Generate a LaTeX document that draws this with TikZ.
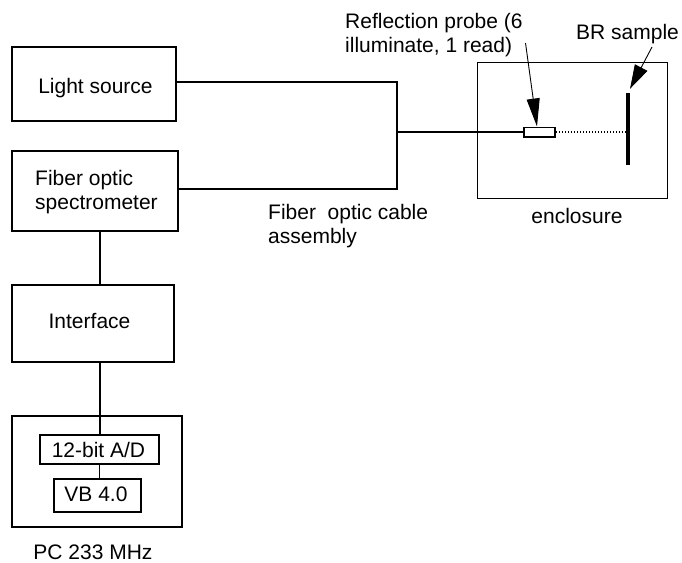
\documentclass[tikz,border=0pt]{standalone}
\usepackage{fontspec}
\setmainfont{Liberation Sans}
\usetikzlibrary{arrows.meta}
\begin{document}
\begin{tikzpicture}[x=1pt,y=-1pt,
  box/.style={draw, line width=2pt, inner sep=0pt},
  thinbox/.style={draw, line width=1.3pt, inner sep=0pt},
  txt/.style={inner sep=0pt, font=\fontsize{21}{24}\selectfont},
  wire/.style={line width=2pt},
  pointer/.style={line width=0.9pt}
]
\useasboundingbox (0,0) rectangle (682,562);
% boxes
\node[box, minimum width=164pt, minimum height=74pt] (ls) at (94,84) {};
\node[box, minimum width=166pt, minimum height=80pt] (spec) at (95,191) {};
\node[box, minimum width=162pt, minimum height=77pt] (intf) at (93,323.5) {};
\node[box, minimum width=170pt, minimum height=111pt] (pc) at (97,471.5) {};
\node[thinbox, minimum width=119pt, minimum height=29pt] (ad) at (99.5,449.5) {};
\node[thinbox, minimum width=87pt, minimum height=33pt] (vb) at (97.5,495.5) {};
\node[draw, line width=1pt, inner sep=0pt, minimum width=190pt, minimum height=136pt] (encl) at (572,130) {};
\node[draw, line width=1.5pt, inner sep=0pt, minimum width=31pt, minimum height=9.5pt] (probe) at (539.5,132) {};
\node[fill=black, inner sep=0pt, minimum width=4.5pt, minimum height=72pt] (sample) at (628,129) {};
% texts
\node[txt, anchor=base] (lst) at (95.5,93) {Light source};
\node[txt, anchor=north west, align=left] (spt) at (35,170) {Fiber optic\\spectrometer};
\node[txt, anchor=base] (ift) at (89.5,328) {Interface};
\node[txt, anchor=base] (adt) at (98.5,457) {12-bit A/D};
\node[txt, anchor=base] (vbt) at (96,501) {VB 4.0};
\node[txt, anchor=base] (pct) at (93,559) {PC 233 MHz};
\node[txt, anchor=north west, align=left] (cbt) at (268,204) {Fiber\ \ optic cable\\assembly};
\node[txt, anchor=north west, align=left] (prt) at (345,13) {Reflection probe (6\\illuminate, 1 read)};
\node[txt, anchor=base west] (brt) at (576,39) {BR sample};
\node[txt, anchor=base] (ent) at (577,223) {enclosure};
% connectors
\coordinate (j1) at (397,82);
\coordinate (j2) at (397,189);
\coordinate (jm) at (397,132);
\draw[wire] (ls.east |- j1) -- (j1) -- (j2) -- (spec.east |- j2);
\draw[line width=2.3pt] (jm) -- (probe.west);
\draw[wire] ([xshift=5pt]spec.south) -- ([xshift=5pt]spec.south |- intf.north);
\draw[wire] ([xshift=7pt]intf.south) -- ([xshift=7pt]intf.south |- ad.north);
\draw[line width=1.3pt] (ad.south) -- (ad.south |- vb.north);
\draw[line width=1.4pt, dash pattern=on 1.4pt off 1.6pt] (probe.east) -- (sample.west |- probe.east);
\coordinate (pa) at (525.5,43);
\draw[pointer, -{Triangle[length=28pt,width=13pt]}] (pa) -- ([xshift=-2.5pt]probe.north);
\coordinate (ba) at (652,47);
\draw[pointer, -{Triangle[length=24pt,width=14pt]}] (ba) -- ([xshift=2pt,yshift=4pt]sample.north);
\end{tikzpicture}
\end{document}
